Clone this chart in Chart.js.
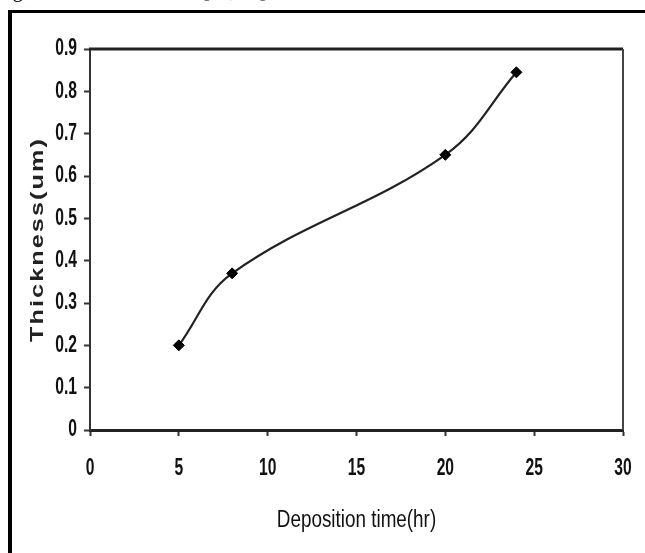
<!DOCTYPE html>
<html>
<head>
<meta charset="utf-8">
<script src="https://cdn.jsdelivr.net/npm/chart.js@4/dist/chart.umd.min.js"></script>
<style>
  html, body { margin: 0; padding: 0; background: #fff; }
  #page { position: relative; width: 645px; height: 553px; overflow: hidden; background: #fff; }
  #caption { position: absolute; top: -21px; left: 0; width: 645px; height: 25px; font: 20px "Liberation Serif", serif; color: #000; white-space: nowrap; }
  #caption span { position: absolute; top: 0; }
  #frame { position: absolute; left: 8px; top: 10px; right: 0; bottom: 0; border-left: 4px solid #000; border-top: 3px solid #000; background: #fff; }
  #chart { position: absolute; left: 0; top: 0; }
</style>
</head>
<body>
<div id="page">
  <div id="caption"><span style="left:-4px">Figure</span><span style="left:203px">[12, 13]</span></div>
  <div id="frame"></div>
  <canvas id="chart" width="645" height="553"></canvas>
</div>
<script>
const hours = [5, 8, 20, 24];
const thickness = [0.2, 0.37, 0.65, 0.845];
const xTitle = "Deposition time(hr)";
const yTitle = "Thickness(um)";

const canvas = document.getElementById("chart");
const ctx = canvas.getContext("2d");

// the source uses a condensed face for ticks and x title and a stretched one
// for the y title; no condensed font is installed, so scale the glyphs instead
function stretchFor(text) {
  if (text === yTitle) return { sx: 1.4, spacing: "1.5px" };
  if (text === xTitle) return { sx: 0.82 };
  if (/^[0-9.]+$/.test(text)) return { sx: 0.68 };
  return null;
}

const plainFillText = ctx.fillText;
ctx.fillText = function (text, x, y, maxWidth) {
  const s = stretchFor(String(text));
  if (!s) {
    if (maxWidth === undefined) plainFillText.call(this, text, x, y);
    else plainFillText.call(this, text, x, y, maxWidth);
    return;
  }
  this.save();
  this.translate(x, y);
  this.scale(s.sx, 1);
  if (s.spacing) this.letterSpacing = s.spacing;
  plainFillText.call(this, text, 0, 0);
  this.restore();
};

const plotBox = {
  id: "plotBox",
  afterDatasetsDraw(chart) {
    const { left, right, top, bottom } = chart.chartArea;
    const c = chart.ctx;
    c.save();
    c.strokeStyle = "#222";
    c.lineWidth = 3;
    c.beginPath();
    c.moveTo(left - 1, top);
    c.lineTo(right, top);
    c.stroke();
    c.strokeStyle = "#444";
    c.lineWidth = 2;
    c.beginPath();
    c.moveTo(right, top);
    c.lineTo(right, bottom);
    c.stroke();
    c.restore();
  },
};

const tickFont = { family: "'Liberation Sans', sans-serif", size: 23, weight: "bold" };

new Chart(ctx, {
  type: "scatter",
  data: {
    datasets: [
      {
        data: hours.map((h, i) => ({ x: h, y: thickness[i] })),
        showLine: true,
        tension: 0.38,
        borderColor: "#222",
        borderWidth: 2.2,
        pointStyle: "rectRot",
        pointRadius: 5.5,
        pointBackgroundColor: "#000",
        pointBorderColor: "#000",
        pointBorderWidth: 1,
      },
    ],
  },
  options: {
    responsive: false,
    animation: false,
    layout: { padding: { top: 49, right: 22, left: 0, bottom: 0 } },
    plugins: { legend: { display: false }, tooltip: { enabled: false } },
    scales: {
      x: {
        type: "linear",
        position: "bottom",
        min: 0,
        max: 30,
        afterFit: (scale) => {
          scale.height = 123;
          scale.paddingLeft = 0;
          scale.paddingRight = 0;
        },
        ticks: { stepSize: 5, color: "#111", font: tickFont, padding: 19 },
        grid: { drawOnChartArea: false, tickLength: 6, color: "#333", tickWidth: 2 },
        border: { display: true, color: "#222", width: 3 },
        title: {
          display: true,
          text: xTitle,
          color: "#111",
          font: { family: "'Liberation Sans', sans-serif", size: 23 },
          padding: { top: 0, bottom: 19 },
        },
      },
      y: {
        min: 0,
        max: 0.9,
        afterFit: (scale) => {
          scale.width = 90;
          scale.paddingTop = 0;
          scale.paddingBottom = 0;
        },
        ticks: {
          stepSize: 0.1,
          color: "#111",
          font: tickFont,
          padding: 7,
          callback: (v) => (v === 0 ? "0" : v.toFixed(1)),
        },
        grid: { drawOnChartArea: false, tickLength: 6, color: "#333", tickWidth: 2 },
        border: { display: true, color: "#333", width: 2 },
        title: {
          display: true,
          text: yTitle,
          color: "#222",
          font: { family: "'Liberation Sans', sans-serif", size: 18, weight: "bold" },
          padding: { top: 27, bottom: 0 },
        },
      },
    },
  },
  plugins: [plotBox],
});
</script>
</body>
</html>
